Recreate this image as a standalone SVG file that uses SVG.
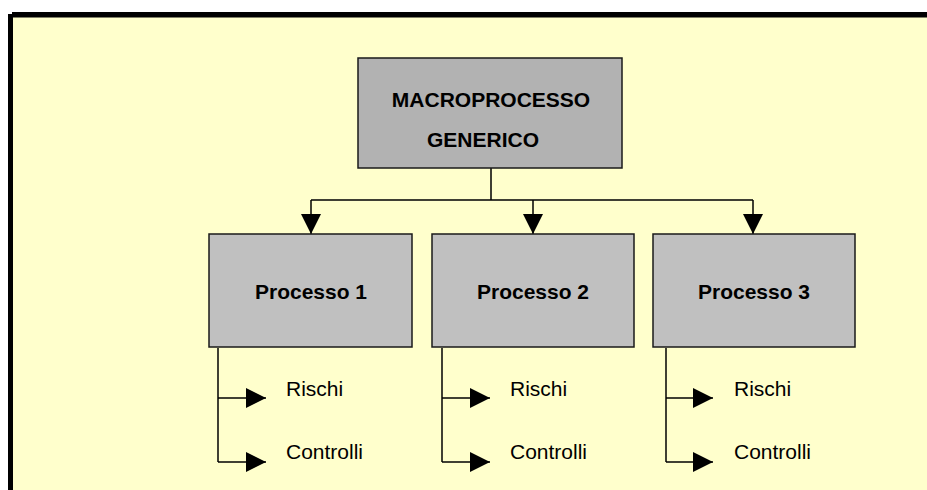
<svg xmlns="http://www.w3.org/2000/svg" width="927" height="490" viewBox="0 0 927 490">
<style>
.box{stroke:#1a1a1a;stroke-width:1.5}
.macro{fill:#b2b2b2}
.proc{fill:#c0c0c0}
.b{font-family:"Liberation Sans",Arial,sans-serif;font-weight:bold;font-size:21px;fill:#000}
.r{font-family:"Liberation Sans",Arial,sans-serif;font-size:21px;fill:#000}
.c{fill:none;stroke:#000;stroke-width:1.5}
</style>
<defs>
<marker id="ah" markerUnits="userSpaceOnUse" markerWidth="20" markerHeight="20" refX="20" refY="10" orient="auto" viewBox="0 0 20 20">
<path d="M0,0 L20,10 L0,20 z" fill="#000"/>
</marker>
</defs>
<rect x="0" y="0" width="927" height="490" fill="#fff"/>
<rect x="13" y="17" width="914" height="473" fill="#ffffcc"/>
<rect x="12" y="12" width="915" height="5.5" fill="#000"/>
<rect x="8" y="14" width="5" height="476" fill="#000"/>
<g id="connectors">
<path class="c" d="M491,168 V200 M311,200 H753"/>
<path class="c" d="M311,200 V234" marker-end="url(#ah)"/>
<path class="c" d="M533,200 V234" marker-end="url(#ah)"/>
<path class="c" d="M753,200 V234" marker-end="url(#ah)"/>
<path class="c" d="M218,348 V462"/>
<path class="c" d="M218,398 H266" marker-end="url(#ah)"/>
<path class="c" d="M218,462 H266" marker-end="url(#ah)"/>
<path class="c" d="M442,348 V462"/>
<path class="c" d="M442,398 H490" marker-end="url(#ah)"/>
<path class="c" d="M442,462 H490" marker-end="url(#ah)"/>
<path class="c" d="M666,348 V462"/>
<path class="c" d="M666,398 H713" marker-end="url(#ah)"/>
<path class="c" d="M666,462 H713" marker-end="url(#ah)"/>
</g>
<g id="macro">
<rect class="box macro" x="358" y="58" width="264" height="110"/>
<text class="b" x="491" y="107" text-anchor="middle">MACROPROCESSO</text>
<text class="b" x="427" y="147">GENERICO</text>
</g>
<g id="p1">
<rect class="box proc" x="209" y="234" width="203" height="113"/>
<text class="b" x="311" y="299" text-anchor="middle">Processo 1</text>
</g>
<g id="p2">
<rect class="box proc" x="432" y="234" width="202" height="113"/>
<text class="b" x="533" y="299" text-anchor="middle">Processo 2</text>
</g>
<g id="p3">
<rect class="box proc" x="653" y="234" width="202" height="113"/>
<text class="b" x="754" y="299" text-anchor="middle">Processo 3</text>
</g>
<g id="p1-items">
<text class="r" x="286" y="396">Rischi</text>
<text class="r" x="286" y="459">Controlli</text>
</g>
<g id="p2-items">
<text class="r" x="510" y="396">Rischi</text>
<text class="r" x="510" y="459">Controlli</text>
</g>
<g id="p3-items">
<text class="r" x="734" y="396">Rischi</text>
<text class="r" x="734" y="459">Controlli</text>
</g>
</svg>
